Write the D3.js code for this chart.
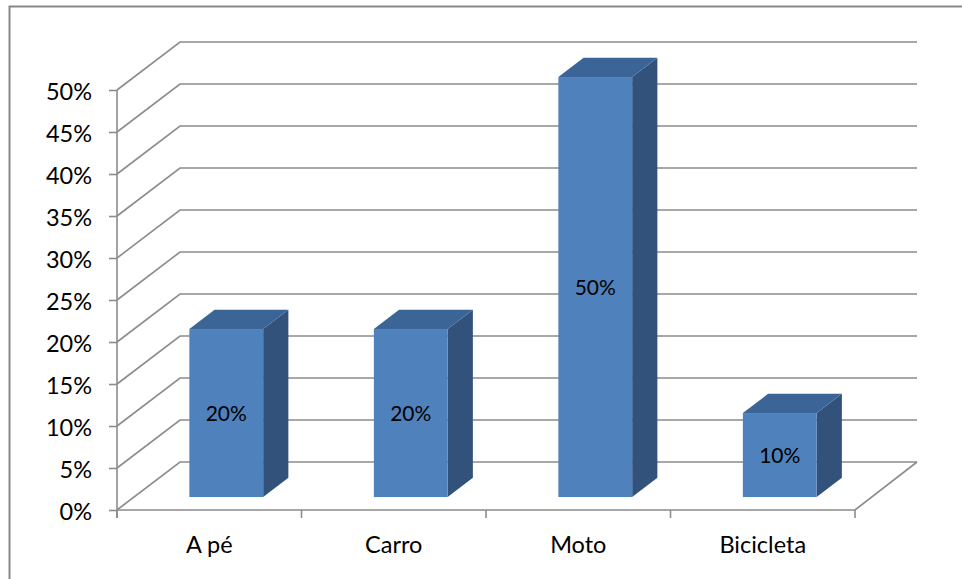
<!DOCTYPE html>
<html><head><meta charset="utf-8">
<script src="https://cdn.jsdelivr.net/npm/d3@7/dist/d3.min.js"></script>
<style>body{margin:0;background:#fff}</style>
</head><body><svg id="c" width="962" height="579"></svg>
<script>
const categories = ["A pé", "Carro", "Moto", "Bicicleta"];
const values = [0.20, 0.20, 0.50, 0.10];
const labels = ["20%", "20%", "50%", "10%"];
const yTicks = [0, 0.05, 0.10, 0.15, 0.20, 0.25, 0.30, 0.35, 0.40, 0.45, 0.50];

const svg = d3.select("#c");
const font = "Lato, 'Open Sans', sans-serif";
const grid = "#8c8c8c";
const DX = 63, DY = -48;           // full depth offset
const d0 = 0.27, d1 = 0.67;        // bar depth fraction

const x = d3.scaleBand().domain(categories).range([117, 855]).paddingInner(0).paddingOuter(0);
const y = d3.scaleLinear().domain([0, 0.5]).range([510, 90]);

// outer border
svg.append("rect").attr("x", 9.5).attr("y", 6.5).attr("width", 960).attr("height", 580)
  .attr("fill", "none").attr("stroke", "#878787").attr("stroke-width", 2);

// gridlines: left wall diagonals + back wall lines
const g = svg.append("g").attr("stroke", grid).attr("stroke-width", 1.6).attr("fill", "none");
yTicks.forEach(t => {
  const yy = y(t);
  g.append("path").attr("d", `M${x.range()[0]},${yy} L${x.range()[0] + DX},${yy + DY} L${917},${yy + DY}`);
});
// floor
g.append("path").attr("d", `M${x.range()[0]},${y(0)} L${x.range()[1]},${y(0)} L${x.range()[1] + DX - 1},${y(0) + DY}`);

// y axis
const yAxis = d3.axisLeft(y).tickValues(yTicks).tickFormat(d3.format(".0%")).tickSize(8).tickPadding(17);
const ya = svg.append("g").attr("transform", `translate(${x.range()[0]},0)`).call(yAxis);
ya.select(".domain").attr("stroke", grid).attr("stroke-width", 1.6).attr("d", `M-0,${y(0.5)}V${y(0) + 8}`);
ya.selectAll(".tick line").attr("stroke", grid).attr("stroke-width", 1.6);
ya.selectAll(".tick text").attr("font-family", font).attr("font-size", 23.5).attr("fill", "#000").attr("dy", "0.42em");

// x axis
const xa = svg.append("g").attr("transform", `translate(0,${y(0)})`)
  .call(d3.axisBottom(x).tickSize(0).tickPadding(26));
xa.select(".domain").remove();
xa.selectAll(".tick text").attr("font-family", font).attr("font-size", 23.5).attr("fill", "#000");
// x tick marks at category boundaries
const bounds = categories.map(c => x(c)).concat([x.range()[1]]);
svg.append("g").selectAll("line").data(bounds).join("line")
  .attr("x1", d => d).attr("x2", d => d).attr("y1", y(0)).attr("y2", y(0) + 8)
  .attr("stroke", grid).attr("stroke-width", 1.6);

// bars
const bw = x.bandwidth() * 0.4;
const bars = svg.append("g");
categories.forEach((c, i) => {
  const cx = x(c) + x.bandwidth() / 2 + DX * d0;
  const oy = DY * d0;
  const ex = DX * (d1 - d0), ey = DY * (d1 - d0);
  const xl = cx - bw / 2, xr = cx + bw / 2;
  const yb = y(0) + oy, yt = y(values[i]) + oy;
  bars.append("path").attr("d", `M${xr},${yt} L${xr + ex},${yt + ey} L${xr + ex},${yb + ey} L${xr},${yb}Z`)
    .attr("fill", "#32527b");
  bars.append("path").attr("d", `M${xl},${yt} L${xl + ex},${yt + ey} L${xr + ex},${yt + ey} L${xr},${yt}Z`)
    .attr("fill", "#3c6597");
  bars.append("rect").attr("x", xl).attr("y", yt).attr("width", bw).attr("height", yb - yt)
    .attr("fill", "#4f81bd");
  bars.append("text").attr("x", cx).attr("y", (yt + yb) / 2 + 8).attr("text-anchor", "middle")
    .attr("font-family", font).attr("font-size", 21).attr("fill", "#000").text(labels[i]);
});
</script></body></html>
